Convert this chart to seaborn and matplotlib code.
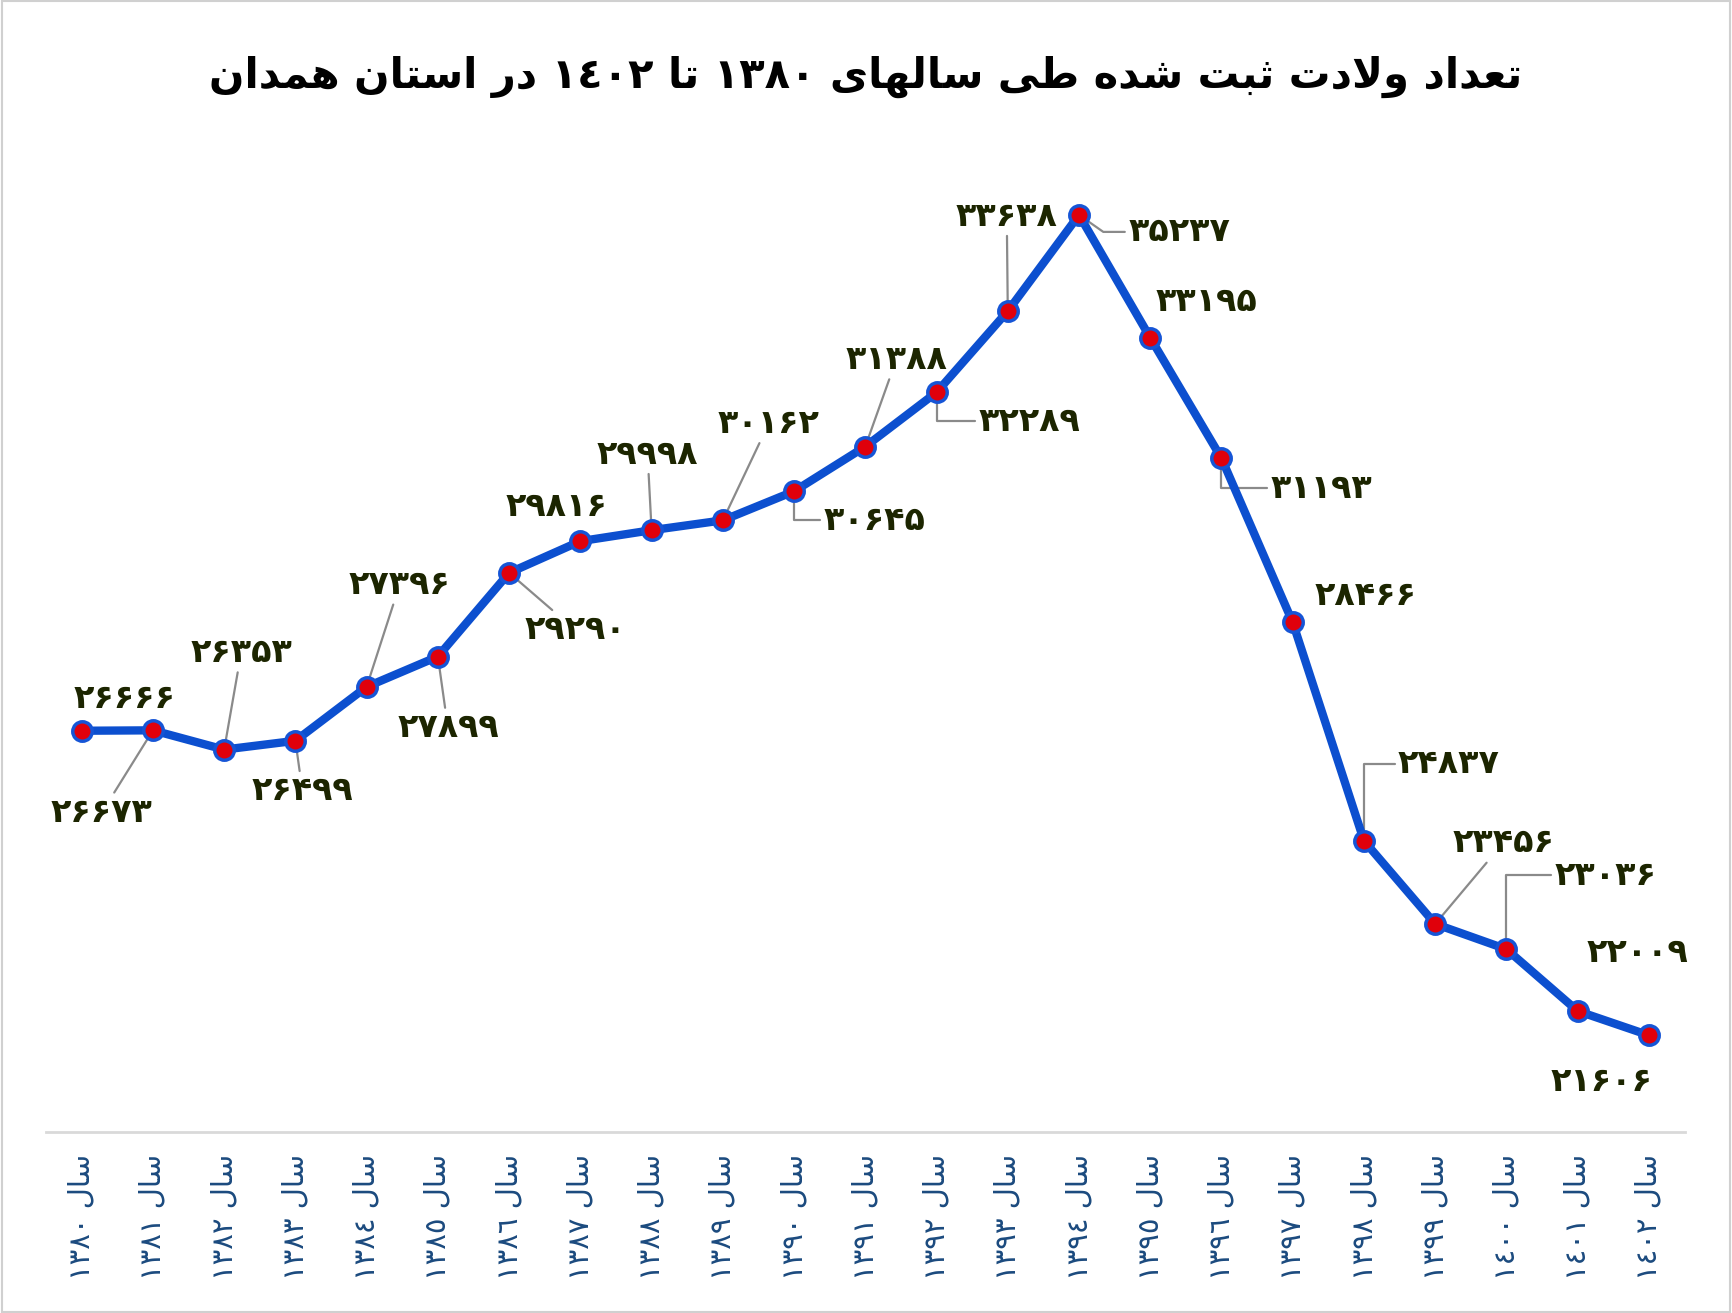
import matplotlib
matplotlib.use("Agg")
import matplotlib.pyplot as plt
import pandas as pd
import seaborn as sns
from matplotlib.patches import Rectangle

# داده‌ها
years = [1380, 1381, 1382, 1383, 1384, 1385, 1386, 1387, 1388, 1389, 1390, 1391,
         1392, 1393, 1394, 1395, 1396, 1397, 1398, 1399, 1400, 1401, 1402]
births = [26666, 26673, 26353, 26499, 27396, 27899, 29290, 29816, 29998, 30162,
          30645, 31388, 32289, 33638, 35237, 33195, 31193, 28466, 24837, 23456,
          23036, 22009, 21606]
title_text = "تعداد ولادت ثبت شده طی سالهای ۱۳۸۰ تا ۱٤۰۲ در استان همدان"
year_word = "سال"

# جای برچسب‌ها نسبت به نقطه (پیکسل) و نوع خط راهنما
# None: بدون خط، 'line': خط مستقیم، 'elbow': خط شکسته، عدد: زاویهٔ شکست
label_pos = [(43, 32, None), (-51, -82, 'line'), (17, 97, 'line'), (7, -50, 'line'),
             (33, 102, 'line'), (10, -71, 'line'), (66, -57, 'line'), (-24, 35, None),
             (-4, 76, 'line'), (46, 97, 'line'), (80, -29, 'elbow'), (31, 87, 'line'),
             (93, -29, 'elbow'), (-1, 95, 'line'), (100, -17, -35), (56, 36, None),
             (100, -30, 'elbow'), (73, 27, None), (85, 77, 'elbow'), (68, 81, 'line'),
             (99, 74, 'elbow'), (60, 59, None), (-47, -46, None)]

# شکل‌دهی ساده حروف فارسی (بدون کتابخانه بیرونی)
FORMS = {
    'ا': ('\uFE8D', '\uFE8E', None, None),
    'ب': ('\uFE8F', '\uFE90', '\uFE91', '\uFE92'),
    'ت': ('\uFE95', '\uFE96', '\uFE97', '\uFE98'),
    'ث': ('\uFE99', '\uFE9A', '\uFE9B', '\uFE9C'),
    'د': ('\uFEA9', '\uFEAA', None, None),
    'ر': ('\uFEAD', '\uFEAE', None, None),
    'س': ('\uFEB1', '\uFEB2', '\uFEB3', '\uFEB4'),
    'ش': ('\uFEB5', '\uFEB6', '\uFEB7', '\uFEB8'),
    'ط': ('\uFEC1', '\uFEC2', '\uFEC3', '\uFEC4'),
    'ع': ('\uFEC9', '\uFECA', '\uFECB', '\uFECC'),
    'ل': ('\uFEDD', '\uFEDE', '\uFEDF', '\uFEE0'),
    'م': ('\uFEE1', '\uFEE2', '\uFEE3', '\uFEE4'),
    'ن': ('\uFEE5', '\uFEE6', '\uFEE7', '\uFEE8'),
    'ه': ('\uFEE9', '\uFEEA', '\uFEEB', '\uFEEC'),
    'و': ('\uFEED', '\uFEEE', None, None),
    'ی': ('\uFBFC', '\uFBFD', '\uFBFE', '\uFBFF'),
    'لا': ('\uFEFB', '\uFEFC', None, None),
}


def shape_word(w):
    letters = []
    i = 0
    while i < len(w):
        if w[i] == 'ل' and i + 1 < len(w) and w[i + 1] == 'ا':
            letters.append('لا')
            i += 2
        else:
            letters.append(w[i])
            i += 1
    out = []
    for k, c in enumerate(letters):
        if c not in FORMS:
            out.append(c)
            continue
        prev = letters[k - 1] if k > 0 else None
        nxt = letters[k + 1] if k + 1 < len(letters) else None
        join_prev = prev in FORMS and FORMS[prev][2] is not None
        join_next = nxt in FORMS and FORMS[c][2] is not None
        iso, fin, ini, med = FORMS[c]
        if join_prev and join_next:
            out.append(med)
        elif join_prev:
            out.append(fin)
        elif join_next:
            out.append(ini)
        else:
            out.append(iso)
    return ''.join(reversed(out))


def rtl(text):
    words = []
    for t in text.split(' '):
        if any(ch in FORMS for ch in t):
            words.append(shape_word(t))
        else:
            words.append(t)
    return ' '.join(reversed(words))


def fa_digits(n, table="۰۱۲۳۴۵۶۷۸۹"):
    return ''.join(table[int(d)] for d in str(n))


df = pd.DataFrame({"idx": range(len(years)), "births": births})

sns.set_style("white")
plt.rcParams['font.family'] = ['DejaVu Sans']

fig = plt.figure(figsize=(17.32, 13.13), dpi=100)
ax = fig.add_axes([0.0266, 0.1379, 0.946, 0.7334])

sns.lineplot(data=df, x="idx", y="births", ax=ax, color="#0c4fcf", linewidth=6,
             marker="o", markersize=14, markerfacecolor="#e0000b",
             markeredgecolor="#1655d6", markeredgewidth=2.5, zorder=3)

for i, (v, (dx, dy, leader)) in enumerate(zip(births, label_pos)):
    arrow = None
    if leader is not None:
        arrow = dict(arrowstyle='-', color='#8a8a8a', lw=1.6, shrinkA=0, shrinkB=2)
        if leader == 'elbow':
            arrow['connectionstyle'] = "angle,angleA=0,angleB=90,rad=0"
        elif leader != 'line':
            arrow['connectionstyle'] = f"angle,angleA=0,angleB={leader},rad=0"
    ax.annotate(fa_digits(v), xy=(i, v), xytext=(dx, dy), textcoords='offset pixels',
                ha='center', va='center', fontsize=24, fontweight='bold',
                color='#1c2500', arrowprops=arrow, zorder=2)

ax.set_xlim(-0.5, len(years) - 0.5)
ax.set_ylim(20000, 36000)
ax.set_xticks(range(len(years)))
ax.set_xticklabels([rtl(year_word + " " + fa_digits(y, "٠١٢٣٤٥٦٧٨٩")) for y in years],
                   rotation=90, fontsize=21, color="#1b4a7e")
ax.tick_params(axis='x', length=0, pad=16)
ax.set_yticks([])
ax.set_xlabel("")
ax.set_ylabel("")
for s in ["top", "left", "right"]:
    ax.spines[s].set_visible(False)
ax.spines["bottom"].set_color("#d9d9d9")
ax.spines["bottom"].set_linewidth(2)

fig.text(0.5, 1 - 77 / 1313, rtl(title_text), ha='center', va='center',
         fontsize=30, fontweight='bold', color='black')

fig.patches.append(Rectangle((0.001, 0.001), 0.998, 0.998, transform=fig.transFigure,
                             fill=False, edgecolor='#d0d0d0', linewidth=1.5))

fig.savefig("out.png", dpi=100)
